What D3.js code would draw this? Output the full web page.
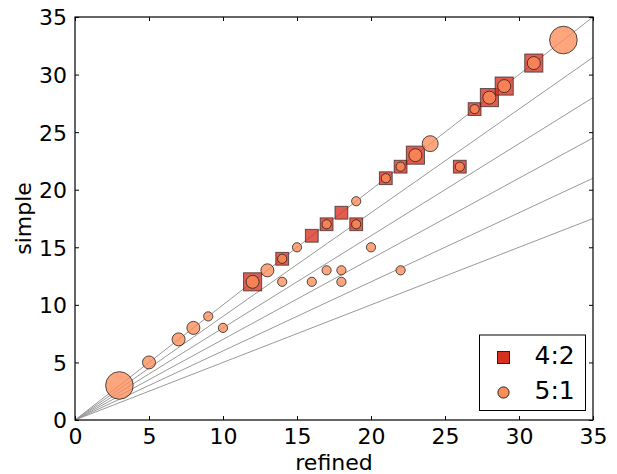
<!DOCTYPE html>
<html>
<head>
<meta charset="utf-8">
<script src="https://cdn.jsdelivr.net/npm/d3@7"></script>
<style>
  body { margin: 0; background: #fff; }
  svg { font-family: "DejaVu Sans", sans-serif; }
</style>
</head>
<body>
<svg id="viz" width="617" height="474"></svg>
<script>
// 4:2 series: refined x, simple y, count
var sqX = [12, 14, 16, 17, 18, 19, 21, 22, 23, 26, 27, 28, 29, 31];
var sqY = [12, 14, 16, 17, 18, 17, 21, 22, 23, 22, 27, 28, 29, 31];
var sqN = [2, 1, 1, 1, 1, 1, 1, 1, 2, 1, 1, 2, 2, 2];

// 5:1 series
var ciX = [3, 5, 7, 8, 9, 10, 12, 13, 14, 14, 15, 16, 17, 17, 18, 18, 19, 19, 20, 21, 22, 22, 23, 24, 26, 27, 28, 29, 31, 33];
var ciY = [3, 5, 7, 8, 9, 8, 12, 13, 14, 12, 15, 12, 17, 13, 13, 12, 19, 17, 15, 21, 22, 13, 23, 24, 22, 27, 28, 29, 31, 33];
var ciN = [9, 2, 2, 2, 1, 1, 2, 2, 1, 1, 1, 1, 1, 1, 1, 1, 1, 1, 1, 1, 1, 1, 2, 3, 1, 1, 2, 2, 2, 9];

// reference lines y = k * x
var slopes = [1, 0.9, 0.8, 0.7, 0.6, 0.5];
var ticks = [0, 5, 10, 15, 20, 25, 30, 35];
var legendLabels = ["4:2", "5:1"];

function drawChart() {
	var margin = { left: 75, right: 24, top: 17, bottom: 54 };
	var width = 617, height = 474;
	var innerWidth = width - margin.left - margin.right;
	var innerHeight = height - margin.top - margin.bottom;

	var x = d3.scaleLinear().domain([0, 35]).range([0, innerWidth]);
	var y = d3.scaleLinear().domain([0, 35]).range([innerHeight, 0]);
	var rCircle = d3.scaleSqrt().domain([0, 1]).range([0, 4.6]);
	var hSquare = d3.scaleSqrt().domain([0, 1]).range([0, 6.4]);

	var svg = d3.select("#viz");
	var g = svg.append("g")
		.attr("transform", "translate(" + margin.left + "," + margin.top + ")");

	g.append("defs").append("clipPath").attr("id", "clip")
		.append("rect").attr("width", innerWidth).attr("height", innerHeight);

	// reference lines
	g.append("g").attr("clip-path", "url(#clip)")
		.selectAll("line").data(slopes).enter().append("line")
		.attr("x1", x(0)).attr("y1", y(0))
		.attr("x2", x(35)).attr("y2", function(k) { return y(35 * k); })
		.attr("stroke", "#999").attr("stroke-width", 1);

	// squares
	g.append("g").selectAll("rect").data(d3.range(sqX.length)).enter().append("rect")
		.attr("x", function(i) { return x(sqX[i]) - hSquare(sqN[i]); })
		.attr("y", function(i) { return y(sqY[i]) - hSquare(sqN[i]); })
		.attr("width", function(i) { return 2 * hSquare(sqN[i]); })
		.attr("height", function(i) { return 2 * hSquare(sqN[i]); })
		.attr("fill", "#d7301f").attr("fill-opacity", 0.78)
		.attr("stroke", "#222").attr("stroke-opacity", 0.7).attr("stroke-width", 1);

	// circles
	g.append("g").selectAll("circle").data(d3.range(ciX.length)).enter().append("circle")
		.attr("cx", function(i) { return x(ciX[i]); })
		.attr("cy", function(i) { return y(ciY[i]); })
		.attr("r", function(i) { return rCircle(ciN[i]); })
		.attr("fill", "#fc8d59").attr("fill-opacity", 0.78)
		.attr("stroke", "#222").attr("stroke-opacity", 0.8).attr("stroke-width", 1);

	// frame
	g.append("rect").attr("width", innerWidth).attr("height", innerHeight)
		.attr("fill", "none").attr("stroke", "#000").attr("stroke-width", 1.2);

	// axes, ticks inward on all sides
	var fs = "22px";
	var xb = g.append("g").attr("transform", "translate(0," + innerHeight + ")")
		.call(d3.axisBottom(x).tickValues(ticks).tickSize(-4).tickPadding(8));
	var xt = g.append("g")
		.call(d3.axisTop(x).tickValues(ticks).tickSize(-4).tickFormat(""));
	var yl = g.append("g")
		.call(d3.axisLeft(y).tickValues(ticks).tickSize(-4).tickPadding(8));
	var yr = g.append("g").attr("transform", "translate(" + innerWidth + ",0)")
		.call(d3.axisRight(y).tickValues(ticks).tickSize(-4).tickFormat(""));
	[xb, xt, yl, yr].forEach(function(a) {
		a.select(".domain").remove();
		a.selectAll("text").attr("font-size", fs).attr("fill", "#000")
			.attr("font-family", "DejaVu Sans");
	});
	yl.selectAll("text").attr("dy", "0.36em");

	// axis labels
	g.append("text").attr("x", innerWidth / 2).attr("y", innerHeight + 50)
		.attr("text-anchor", "middle").attr("font-size", fs).text("refined");
	g.append("text").attr("transform", "translate(" + (-44) + "," + (innerHeight / 2) + ") rotate(-90)")
		.attr("text-anchor", "middle").attr("font-size", fs).text("simple");

	// legend
	var lg = g.append("g").attr("transform", "translate(" + (innerWidth - 113.5) + "," + (innerHeight - 85) + ")");
	lg.append("rect").attr("width", 106).attr("height", 75.5)
		.attr("fill", "#fff").attr("stroke", "#000").attr("stroke-width", 1);
	lg.append("rect").attr("x", 18).attr("y", 16.5).attr("width", 12).attr("height", 12)
		.attr("fill", "#d7301f").attr("stroke", "#222").attr("stroke-width", 1);
	lg.append("circle").attr("cx", 24).attr("cy", 57.5).attr("r", 5.6)
		.attr("fill", "#fc8d59").attr("stroke", "#222").attr("stroke-width", 1);
	lg.selectAll("text.lab").data(legendLabels).enter().append("text")
		.attr("class", "lab")
		.attr("x", 55).attr("y", function(d, i) { return 28.5 + i * 35.5; })
		.attr("font-size", "25px").text(function(d) { return d; });
}

drawChart();
</script>
</body>
</html>
